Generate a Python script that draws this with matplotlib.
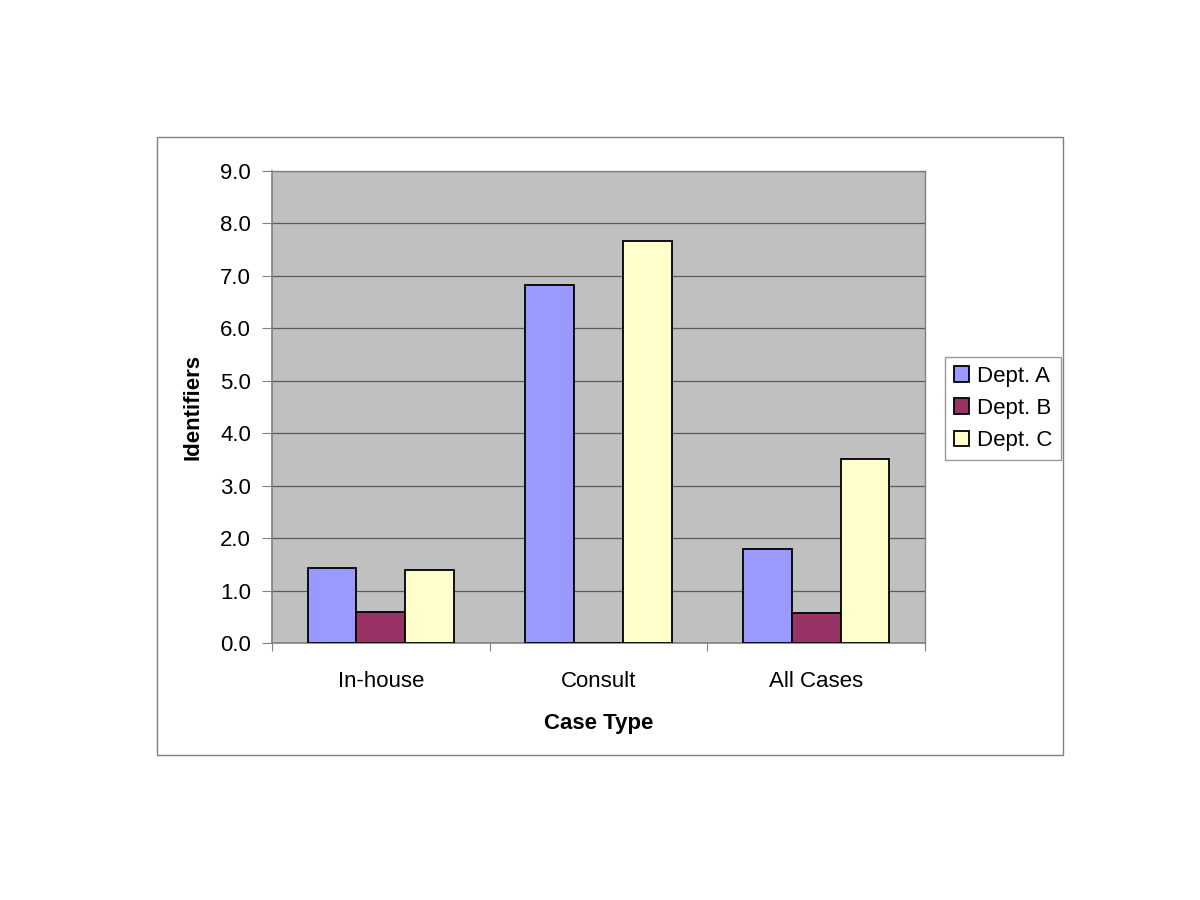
import matplotlib
matplotlib.use("Agg")
import matplotlib.pyplot as plt
from matplotlib.patches import Rectangle
import numpy as np

plt.rcParams['font.family'] = ['Liberation Sans', 'DejaVu Sans']

categories = ["In-house", "Consult", "All Cases"]
series_names = ["Dept. A", "Dept. B", "Dept. C"]
dept_a = [1.43, 6.82, 1.80]
dept_b = [0.59, 0.0, 0.58]
dept_c = [1.39, 7.66, 3.50]
yticks = [0.0, 1.0, 2.0, 3.0, 4.0, 5.0, 6.0, 7.0, 8.0, 9.0]
colors = ["#9999FF", "#993366", "#FFFFCC"]
FS = 16

fig = plt.figure(figsize=(12, 9), dpi=100)
fig.patches.append(Rectangle((157/1200, 1-755/900), (1063-157)/1200, (755-137)/900,
                             transform=fig.transFigure, fill=False, edgecolor="#808080", lw=1))

ax = fig.add_axes([272/1200, 1-643/900, (925-272)/1200, (643-171)/900])
ax.set_facecolor("#C0C0C0")

x = np.arange(len(categories))
w = 0.2236
for i, (vals, name, c) in enumerate(zip([dept_a, dept_b, dept_c], series_names, colors)):
    ax.bar(x + (i - 1) * w, vals, width=w, color=c, edgecolor="black", linewidth=1.3,
           label=name, zorder=3)

ax.set_xlim(-0.5, 2.5)
ax.set_ylim(0, 9)
ax.set_yticks(yticks)
ax.set_yticklabels([f"{v:.1f}" for v in yticks], fontsize=FS)
ax.yaxis.grid(True, color="#5a5a5a", linewidth=0.9, zorder=1)
ax.set_axisbelow(True)

ax.set_xticks([-0.5, 0.5, 1.5, 2.5])
ax.set_xticklabels([])
ax.set_xticks(x, minor=True)
ax.set_xticklabels(categories, minor=True, fontsize=FS)
ax.tick_params(axis='x', which='minor', length=0, pad=20)
ax.tick_params(axis='x', which='major', length=6, color="#808080", direction='out')
ax.tick_params(axis='y', length=7, color="#808080", direction='out', pad=8)

for s in ['top', 'right']:
    ax.spines[s].set_color("#808080")
    ax.spines[s].set_linewidth(1)
for s in ['left', 'bottom']:
    ax.spines[s].set_color("#808080")
    ax.spines[s].set_linewidth(1.2)

ax.set_ylabel("Identifiers", fontsize=FS, fontweight='bold', labelpad=12)
ax.set_xlabel("Case Type", fontsize=FS, fontweight='bold', labelpad=15)

leg = fig.legend(loc='upper left', bbox_to_anchor=(945/1200, 1-357/900), fontsize=FS,
                 frameon=True, fancybox=False, edgecolor="#808080", handlelength=0.7,
                 handleheight=0.7, handletextpad=0.35, labelspacing=0.5,
                 borderpad=0.4, borderaxespad=0)
leg.get_frame().set_linewidth(1)

fig.savefig("out.png", dpi=100, facecolor="white")
